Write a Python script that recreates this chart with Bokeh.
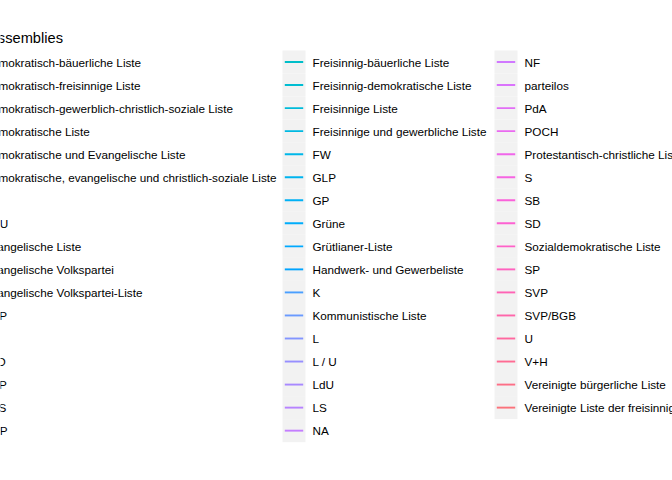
import math
from bokeh.plotting import figure
from bokeh.models import Range1d
from bokeh.core.properties import value
from bokeh.embed import file_html
from bokeh.resources import INLINE

# ---------------- data ----------------
legend_title = "Party in assemblies"

# visible legend columns (column 0 of the legend lies outside the window)
col1_labels = [
    "Demokratisch-bäuerliche Liste",
    "Demokratisch-freisinnige Liste",
    "Demokratisch-gewerblich-christlich-soziale Liste",
    "Demokratische Liste",
    "Demokratische und Evangelische Liste",
    "Demokratische, evangelische und christlich-soziale Liste",
    "DP",
    "EDU",
    "Evangelische Liste",
    "Evangelische Volkspartei",
    "Evangelische Volkspartei-Liste",
    "EVP",
    "FL",
    "FLD",
    "FDP",
    "FPS",
    "FGP",
]
col2_labels = [
    "Freisinnig-bäuerliche Liste",
    "Freisinnig-demokratische Liste",
    "Freisinnige Liste",
    "Freisinnige und gewerbliche Liste",
    "FW",
    "GLP",
    "GP",
    "Grüne",
    "Grütlianer-Liste",
    "Handwerk- und Gewerbeliste",
    "K",
    "Kommunistische Liste",
    "L",
    "L / U",
    "LdU",
    "LS",
    "NA",
]
col3_labels = [
    "NF",
    "parteilos",
    "PdA",
    "POCH",
    "Protestantisch-christliche Liste",
    "S",
    "SB",
    "SD",
    "Sozialdemokratische Liste",
    "SP",
    "SVP",
    "SVP/BGB",
    "U",
    "V+H",
    "Vereinigte bürgerliche Liste",
    "Vereinigte Liste der freisinnigen Gruppen",
]
n_levels = 67          # total number of legend entries (hue palette size)
first_visible_index = 17

# ---------------- styles / layout ----------------
W, H = 672, 480
ROW_H = 23.04
TOP = 50.0
KEY_W = 23.0
col_key_x = [-47.0, 282.0, 494.0]
col_text_x = [-17.0, 312.0, 524.0]
FONT = "Liberation Sans"


def hcl_hex(h, c=100.0, l=65.0):
    WHITE_Y, WHITE_u, WHITE_v = 100.0, 0.1978398, 0.4683363
    hr = math.radians(h)
    U, V = c * math.cos(hr), c * math.sin(hr)
    Y = WHITE_Y * (((l + 16) / 116) ** 3 if l > 7.999592 else l / 903.3)
    u = U / (13 * l) + WHITE_u
    v = V / (13 * l) + WHITE_v
    X = 9.0 * Y * u / (4 * v)
    Z = -X / 3 - 5 * Y + 3 * Y / v

    def gt(x):
        return 1.055 * x ** (1 / 2.4) - 0.055 if x > 0.00304 else 12.92 * x

    r = gt((3.240479 * X - 1.537150 * Y - 0.498535 * Z) / WHITE_Y)
    g = gt((-0.969256 * X + 1.875992 * Y + 0.041556 * Z) / WHITE_Y)
    b = gt((0.055648 * X - 0.204043 * Y + 1.057311 * Z) / WHITE_Y)
    cl = lambda x: int(255 * min(1, max(0, x)) + 0.5)
    return "#%02X%02X%02X" % (cl(r), cl(g), cl(b))


step = (360 - 360 / n_levels) / (n_levels - 1)
palette = [hcl_hex(15 + i * step) for i in range(n_levels)]

cols = [col1_labels, col2_labels, col3_labels]
key_l, key_r, key_t, key_b = [], [], [], []
seg_x0, seg_x1, seg_y, seg_c = [], [], [], []
tx, ty, tt = [], [], []
idx = first_visible_index
for ci, labels in enumerate(cols):
    for ri, lab in enumerate(labels):
        yc = TOP + ROW_H * (ri + 0.5)
        kx = col_key_x[ci]
        key_l.append(kx)
        key_r.append(kx + KEY_W)
        key_t.append(TOP + ROW_H * ri)
        key_b.append(TOP + ROW_H * (ri + 1))
        seg_x0.append(kx + 0.1 * KEY_W)
        seg_x1.append(kx + 0.9 * KEY_W)
        seg_y.append(yc)
        seg_c.append(palette[idx])
        tx.append(col_text_x[ci])
        ty.append(yc)
        tt.append(lab)
        idx += 1

p = figure(width=W, height=H, output_backend="svg", toolbar_location=None,
           x_range=Range1d(0, W), y_range=Range1d(H, 0), min_border=0,
           background_fill_color="white", border_fill_color="white")
p.axis.visible = False
p.xgrid.visible = False
p.ygrid.visible = False
p.outline_line_color = None

p.quad(left=key_l, right=key_r, top=key_t, bottom=key_b,
       fill_color="#F2F2F2", line_color=None)
p.segment(x0=seg_x0, y0=seg_y, x1=seg_x1, y1=seg_y,
          line_color=seg_c, line_width=1.9)
p.text(x=tx, y=ty, text=tt, text_font=value(FONT), text_font_size="11.73px",
       text_baseline="middle", text_align="left", text_color="black")
p.text(x=[62.5], y=[37.5], text=[legend_title], text_font=value(FONT),
       text_font_size="14.67px", text_baseline="middle", text_align="right",
       text_color="black")

open("out.html", "w").write(file_html(p, INLINE))
